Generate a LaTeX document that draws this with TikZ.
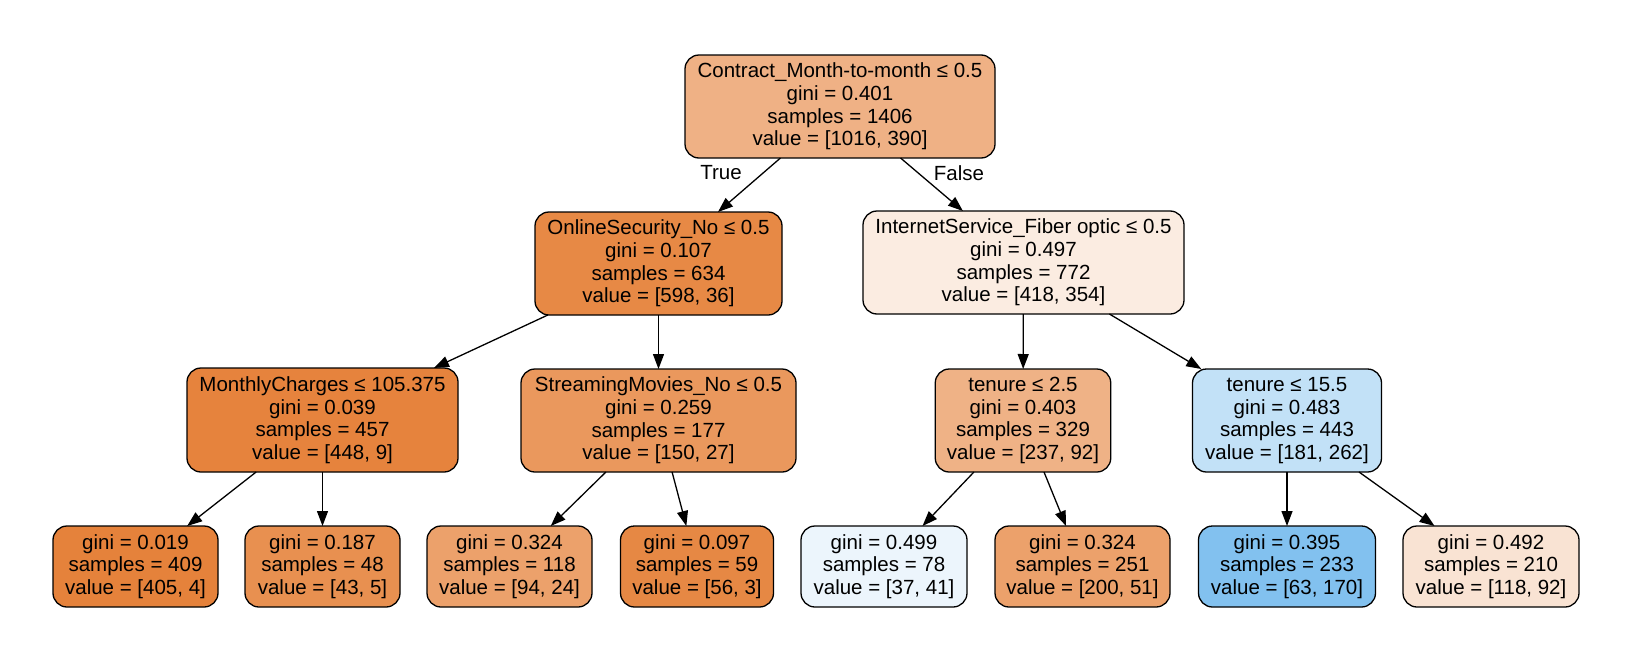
\documentclass[tikz,border=0pt]{standalone}
\usepackage{fontspec}
\setmainfont{Liberation Sans}
\usetikzlibrary{arrows.meta}
\definecolor{cRoot}{RGB}{239,177,133}
\definecolor{cOS}{RGB}{231,137,69}
\definecolor{cIS}{RGB}{251,236,225}
\definecolor{cMC}{RGB}{230,131,61}
\definecolor{cSM}{RGB}{234,152,93}
\definecolor{cTa}{RGB}{239,178,134}
\definecolor{cTb}{RGB}{194,225,247}
\definecolor{cLa}{RGB}{229,130,59}
\definecolor{cLb}{RGB}{232,144,80}
\definecolor{cLc}{RGB}{236,161,107}
\definecolor{cLd}{RGB}{230,136,68}
\definecolor{cLe}{RGB}{236,245,252}
\definecolor{cLf}{RGB}{236,161,107}
\definecolor{cLg}{RGB}{130,193,239}
\definecolor{cLh}{RGB}{249,227,211}
\tikzset{
  tnode/.style={draw=black, line width=1.3pt, rounded corners=14pt, align=center,
    inner sep=0pt, outer sep=0pt, font=\fontsize{20.5}{22.6}\selectfont, minimum height=103pt},
  leafnode/.style={tnode, minimum height=81pt},
  edgelab/.style={font=\fontsize{20.5}{22.6}\selectfont, inner sep=0pt},
  conn/.style={line width=1.3pt, -{Triangle[length=15pt,width=11pt]}}
}
\begin{document}
\begin{tikzpicture}[x=1pt,y=-1pt]
\useasboundingbox (0,0) rectangle (1628,656);
\node[tnode, fill=cRoot, minimum width=310pt] (root) at (840,106.5)
  {Contract\_Month-to-month ≤ 0.5\\gini = 0.401\\samples = 1406\\value = [1016, 390]};
\node[tnode, fill=cOS, minimum width=247pt] (os) at (658.5,263.5)
  {OnlineSecurity\_No ≤ 0.5\\gini = 0.107\\samples = 634\\value = [598, 36]};
\node[tnode, fill=cIS, minimum width=321pt] (is) at (1023.5,262.5)
  {InternetService\_Fiber optic ≤ 0.5\\gini = 0.497\\samples = 772\\value = [418, 354]};
\node[tnode, fill=cMC, minimum width=271pt, minimum height=104pt] (mc) at (322.5,420)
  {MonthlyCharges ≤ 105.375\\gini = 0.039\\samples = 457\\value = [448, 9]};
\node[tnode, fill=cSM, minimum width=275pt] (sm) at (658.5,420.5)
  {StreamingMovies\_No ≤ 0.5\\gini = 0.259\\samples = 177\\value = [150, 27]};
\node[tnode, fill=cTa, minimum width=175.5pt] (ta) at (1023,420.5)
  {tenure ≤ 2.5\\gini = 0.403\\samples = 329\\value = [237, 92]};
\node[tnode, fill=cTb, minimum width=189pt] (tb) at (1287,420.5)
  {tenure ≤ 15.5\\gini = 0.483\\samples = 443\\value = [181, 262]};
\node[leafnode, fill=cLa, minimum width=165pt] (la) at (135.5,566.5)
  {gini = 0.019\\samples = 409\\value = [405, 4]};
\node[leafnode, fill=cLb, minimum width=155pt] (lb) at (322.5,566.5)
  {gini = 0.187\\samples = 48\\value = [43, 5]};
\node[leafnode, fill=cLc, minimum width=165pt] (lc) at (509.5,566.5)
  {gini = 0.324\\samples = 118\\value = [94, 24]};
\node[leafnode, fill=cLd, minimum width=153pt] (ld) at (697,566.5)
  {gini = 0.097\\samples = 59\\value = [56, 3]};
\node[leafnode, fill=cLe, minimum width=166pt] (le) at (884,566.5)
  {gini = 0.499\\samples = 78\\value = [37, 41]};
\node[leafnode, fill=cLf, minimum width=175pt] (lf) at (1082.5,566.5)
  {gini = 0.324\\samples = 251\\value = [200, 51]};
\node[leafnode, fill=cLg, minimum width=177pt] (lg) at (1287,566.5)
  {gini = 0.395\\samples = 233\\value = [63, 170]};
\node[leafnode, fill=cLh, minimum width=176pt] (lh) at (1491,566.5)
  {gini = 0.492\\samples = 210\\value = [118, 92]};
\draw[conn] (root) -- (os);
\draw[conn] (root) -- (is);
\draw[conn] (os) -- (mc);
\draw[conn] (os) -- (sm);
\draw[conn] (is) -- (ta);
\draw[conn] (is) -- (tb);
\draw[conn] (mc) -- (la);
\draw[conn] (mc) -- (lb);
\draw[conn] (sm) -- (lc);
\draw[conn] (sm) -- (ld);
\draw[conn] (ta) -- (le);
\draw[conn] (ta) -- (lf);
\draw[conn] (tb) -- (lg);
\draw[conn] (tb) -- (lh);
\node[edgelab] (truelab) at (721,173) {True};
\node[edgelab] (falselab) at (959,173) {False};
\end{tikzpicture}
\end{document}
